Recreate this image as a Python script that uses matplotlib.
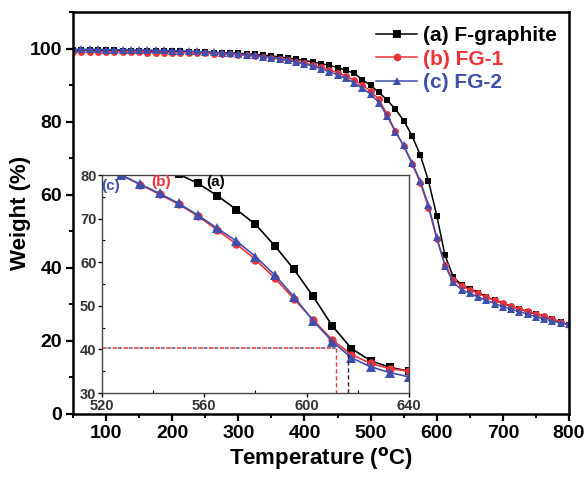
import matplotlib
matplotlib.use("Agg")
import matplotlib.pyplot as plt
from matplotlib.ticker import MultipleLocator
from matplotlib.lines import Line2D

plt.rcParams['font.family'] = ['Liberation Sans', 'DejaVu Sans']
plt.rcParams['font.weight'] = 'bold'
plt.rcParams['mathtext.default'] = 'bf'

# ---- main TGA data ----
temps = [50, 62.5, 75, 87.5, 100, 112.5, 125, 137.5, 150, 162.5, 175, 187.5, 200, 212.5, 225,
         237.5, 250, 262.5, 275, 287.5, 300, 312.5, 325, 337.5, 350, 362.5, 375, 387.5, 400,
         412.5, 425, 437.5, 450, 462.5, 475, 487.5, 500, 512.5, 525, 537.5, 550, 562.5, 575,
         587.5, 600, 612.5, 625, 637.5, 650, 662.5, 675, 687.5, 700, 712.5, 725, 737.5, 750,
         762.5, 775, 787.5, 800]

w_fgraphite = [99.6, 99.6, 99.6, 99.5, 99.5, 99.5, 99.4, 99.4, 99.4, 99.3, 99.3, 99.3, 99.2, 99.2, 99.1,
               99.1, 99.0, 98.9, 98.9, 98.8, 98.7, 98.5, 98.4, 98.2, 98.0, 97.7, 97.4, 97.1, 96.7,
               96.3, 95.9, 95.4, 94.8, 94.1, 93.2, 91.5, 89.9, 88.0, 85.9, 83.4, 80.3, 76.2, 70.9,
               63.8, 54.3, 43.4, 37.5, 35.3, 34.3, 33.2, 32.1, 31.1, 30.2, 29.4, 28.7, 28.0, 27.3,
               26.6, 25.9, 25.1, 24.4]

w_fg1 = [99.1, 99.0, 99.0, 99.0, 99.0, 99.0, 99.0, 99.0, 99.0, 98.9, 98.9, 98.9, 98.9, 98.8, 98.8,
         98.7, 98.7, 98.6, 98.5, 98.4, 98.3, 98.1, 97.9, 97.7, 97.4, 97.1, 96.8, 96.4, 96.0,
         95.5, 94.9, 94.2, 93.4, 92.4, 91.3, 90.0, 88.3, 86.1, 82.0, 77.4, 73.3, 68.5, 63.3,
         56.5, 48.0, 40.8, 36.7, 35.1, 34.0, 33.0, 32.0, 31.1, 30.3, 29.5, 28.8, 28.1, 27.4,
         26.7, 26.0, 25.2, 24.3]

w_fg2 = [99.8, 99.8, 99.8, 99.8, 99.7, 99.7, 99.7, 99.6, 99.6, 99.6, 99.5, 99.5, 99.4, 99.4, 99.3,
         99.2, 99.1, 99.0, 98.8, 98.7, 98.5, 98.3, 98.1, 97.8, 97.5, 97.2, 96.8, 96.3, 95.8,
         95.2, 94.5, 93.7, 92.8, 91.8, 90.6, 89.2, 87.5, 85.2, 81.5, 77.2, 73.5, 68.8, 63.8,
         57.1, 48.3, 40.6, 36.0, 34.0, 33.0, 32.0, 31.1, 30.2, 29.4, 28.7, 28.0, 27.3, 26.6,
         26.0, 25.4, 24.9, 24.5]

labels = ['(a) F-graphite', '(b) FG-1', '(c) FG-2']
short_labels = ['(a)', '(b)', '(c)']
colors = ['#000000', '#ee3338', '#3f4fae']
markers = ['s', 'o', '^']

# ---- inset (zoomed) data ----
temps_inset = [520, 527.5, 535, 542.5, 550, 557.5, 565, 572.5, 580, 587.5, 595, 602.5, 610,
               617.5, 625, 632.5, 640]
wi_fgraphite = [85.6, 84.6, 83.4, 81.9, 80.2, 78.1, 75.3, 72.1, 68.7, 63.8, 58.4, 52.2, 45.4,
                40.2, 37.4, 35.9, 35.0]
wi_fg1 = [81.6, 80.0, 77.8, 75.6, 73.3, 70.6, 67.4, 64.2, 60.6, 56.4, 51.6, 46.8, 42.2,
          38.8, 36.8, 35.6, 35.0]
wi_fg2 = [81.5, 80.0, 77.9, 75.8, 73.5, 70.8, 67.8, 64.9, 61.3, 57.1, 52.1, 46.6, 41.8,
          38.1, 36.0, 34.7, 33.7]

# guide lines: weight level and the temperatures where curves reach it
guide_level = 40.3
guide_t_fg = 611.5
guide_t_fgraphite = 616
guide_top_fgraphite = 39.0

fig = plt.figure(figsize=(5.86, 4.79), dpi=100)
ax = fig.add_axes([0.1246, 0.1357, 0.8464, 0.8393])

main_series = [w_fgraphite, w_fg1, w_fg2]
for ys, c, m, lab in zip(main_series, colors, markers, labels):
    ms = 5.5 if m == '^' else 5.0
    ax.plot(temps, ys, color=c, marker=m, markersize=ms, markeredgewidth=0,
            linewidth=1.1, label=lab)

ax.set_xlim(50, 800)
ax.set_ylim(0, 110)
ax.xaxis.set_major_locator(MultipleLocator(100))
ax.xaxis.set_minor_locator(MultipleLocator(50))
ax.yaxis.set_major_locator(MultipleLocator(20))
ax.yaxis.set_minor_locator(MultipleLocator(10))
ax.set_xticks([100, 200, 300, 400, 500, 600, 700, 800])
ax.tick_params(which='major', direction='out', length=5, width=1.6, labelsize=14, pad=3)
ax.tick_params(which='minor', direction='out', length=3, width=1.4)
for s in ax.spines.values():
    s.set_linewidth(1.8)
for t in ax.get_xticklabels() + ax.get_yticklabels():
    t.set_fontweight('bold')
ax.set_xlabel('Temperature ($^{\\mathbf{o}}$C)', fontsize=16, fontweight='bold', labelpad=2)
ax.set_ylabel('Weight (%)', fontsize=16, fontweight='bold', labelpad=-1)

handles = [Line2D([], [], color=c, marker=m, markersize=5.5, markeredgewidth=0, linewidth=1.1)
           for c, m in zip(colors, markers)]
leg = ax.legend(handles, labels, loc='upper right', bbox_to_anchor=(1.0, 0.995), frameon=False,
                handlelength=2.0, handletextpad=0.25, labelspacing=0.2,
                borderaxespad=0.2, prop={'weight': 'bold', 'size': 15})
for txt, c in zip(leg.get_texts(), colors):
    txt.set_color(c)

# ---- inset ----
ins = fig.add_axes([0.174, 0.1795, 0.524, 0.455])
inset_series = [wi_fgraphite, wi_fg1, wi_fg2]
for ys, c, m in zip(inset_series, colors, markers):
    ms = 6.5 if m == '^' else 6.0
    ins.plot(temps_inset, ys, color=c, marker=m, markersize=ms, markeredgewidth=0,
             linewidth=1.2, clip_on=True)

# guide dashed lines
ins.plot([520, guide_t_fg], [guide_level, guide_level], color=colors[1], linestyle=(0, (3, 4)),
         linewidth=1.1)
ins.plot([520, guide_t_fg], [guide_level, guide_level], color='#555577', linestyle=(3.5, (2.5, 4.5)),
         linewidth=1.1)
ins.plot([guide_t_fg, guide_t_fg], [guide_level, 30], color=colors[1], linestyle=(0, (3, 2)),
         linewidth=1.0)
ins.plot([guide_t_fgraphite, guide_t_fgraphite], [guide_top_fgraphite, 30], color='#222222',
         linestyle=(0, (3, 2)), linewidth=1.0)

ins.set_xlim(520, 640)
ins.set_ylim(30, 80)
ins.xaxis.set_major_locator(MultipleLocator(40))
ins.xaxis.set_minor_locator(MultipleLocator(20))
ins.yaxis.set_major_locator(MultipleLocator(10))
ins.yaxis.set_minor_locator(MultipleLocator(5))
ins.tick_params(which='major', direction='out', length=3, width=1.0, labelsize=10.5, pad=1)
ins.tick_params(which='minor', direction='in', length=2, width=0.8)
for s in ins.spines.values():
    s.set_linewidth(1.0)
    s.set_color('#444444')
for t in ins.get_xticklabels() + ins.get_yticklabels():
    t.set_fontweight('bold')
    t.set_color('#333333')

label_pos = [(564.5, 78.3), (543, 78.3), (523.5, 77.6)]
for (x, y), lab, c in zip(label_pos, short_labels, colors):
    ins.text(x, y, lab, color=c, fontsize=11, fontweight='bold', ha='center', va='center')

fig.savefig('out.png', dpi=100)
